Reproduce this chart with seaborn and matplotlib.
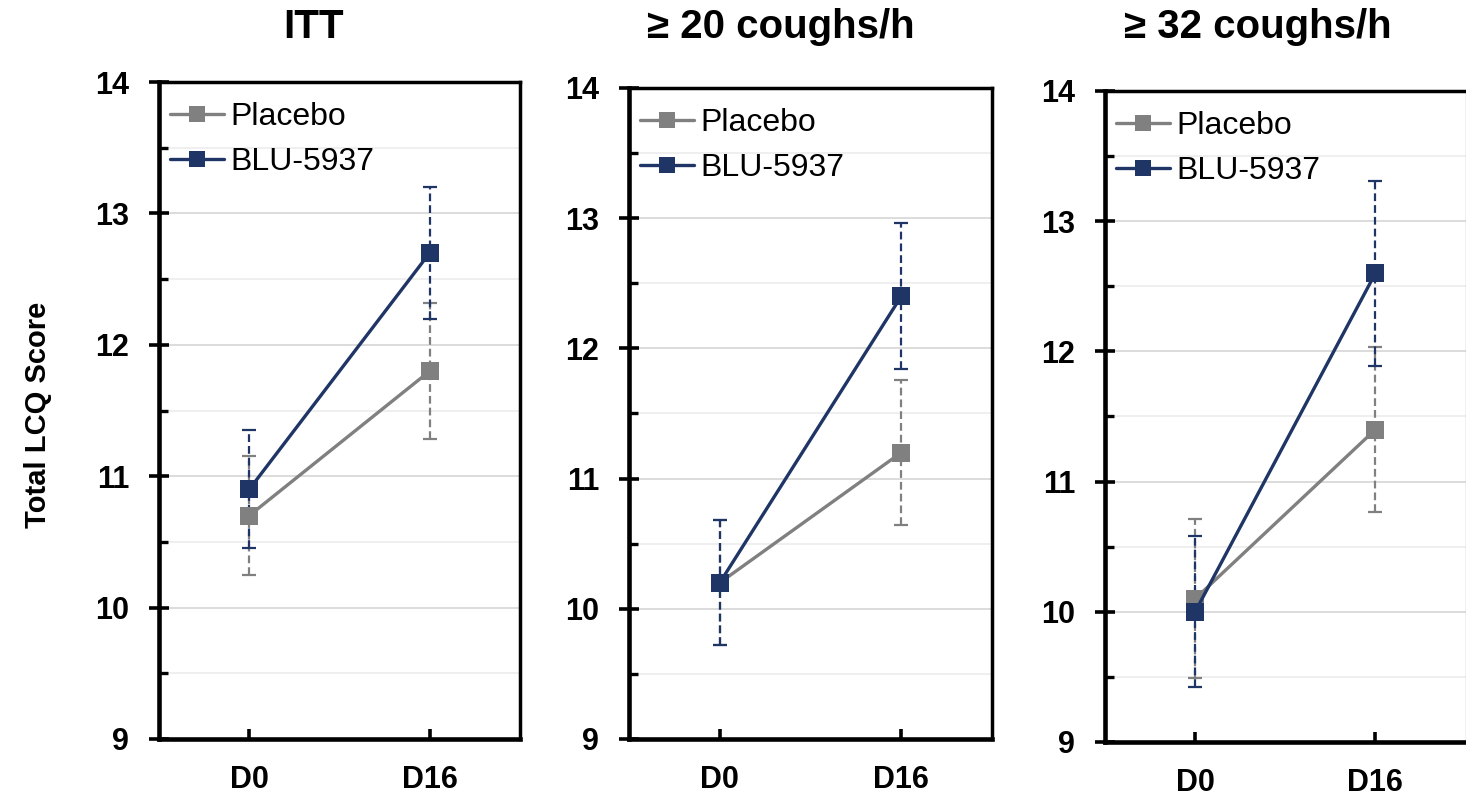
import numpy as np
import pandas as pd
import matplotlib
matplotlib.use('Agg')
import matplotlib.pyplot as plt
from matplotlib.lines import Line2D
from matplotlib.ticker import MultipleLocator
import seaborn as sns

# datos
days = ['D0', 'D16']
groups = ['Placebo', 'BLU-5937']
titles = ['ITT', '≥ 20 coughs/h', '≥ 32 coughs/h']
placebo_mean = [[10.7, 11.8], [10.2, 11.2], [10.1, 11.4]]
placebo_err = [[0.45, 0.52], [0.48, 0.56], [0.61, 0.63]]
blu_mean = [[10.9, 12.7], [10.2, 12.4], [10.0, 12.6]]
blu_err = [[0.45, 0.50], [0.48, 0.56], [0.58, 0.71]]

colors = {'Placebo': '#808080', 'BLU-5937': '#1f3566'}

sns.set_theme(style='white')
plt.rcParams['font.family'] = ['Liberation Sans', 'DejaVu Sans']
plt.rcParams.update({
    'axes.edgecolor': 'black',
    'text.color': 'black',
    'axes.labelcolor': 'black',
    'xtick.color': 'black',
    'ytick.color': 'black',
})

W, H = 1466, 798
fig = plt.figure(figsize=(W / 100, H / 100), dpi=100)

# posiciones de los paneles en píxeles (izq, der, arriba, abajo)
boxes = [(159, 520, 82, 739), (629, 992, 88, 739), (1105, 1465.5, 91, 742)]
title_x = [313, 781, 1258]

for i, (l, r, t, b) in enumerate(boxes):
    ax = fig.add_axes([l / W, 1 - b / H, (r - l) / W, (b - t) / H])
    df = pd.DataFrame({
        'day': days * 2,
        'score': placebo_mean[i] + blu_mean[i],
        'grupo': ['Placebo'] * 2 + ['BLU-5937'] * 2,
    })

    # barras de error punteadas
    for g, m, e in [('Placebo', placebo_mean[i], placebo_err[i]),
                    ('BLU-5937', blu_mean[i], blu_err[i])]:
        eb = ax.errorbar(days, m, yerr=e, fmt='none', ecolor=colors[g],
                         elinewidth=1.6, capsize=5, capthick=1.6, zorder=1.8)
        eb[2][0].set_linestyle((0, (3.5, 1.8)))

    sns.lineplot(data=df, x='day', y='score', hue='grupo', hue_order=groups,
                 palette=colors, marker='s', markersize=12.5, markeredgewidth=0,
                 linewidth=2.4, legend=False, ax=ax, zorder=3)

    ax.set_xlim(-0.5, 1.5)
    ax.set_ylim(9, 14)
    ax.yaxis.set_major_locator(MultipleLocator(1))
    ax.yaxis.set_minor_locator(MultipleLocator(0.5))
    ax.grid(which='major', axis='y', color='#d9d9d9', linewidth=1.3, zorder=0)
    ax.grid(which='minor', axis='y', color='#eeeeee', linewidth=1.3, zorder=0)
    ax.set_axisbelow(True)
    ax.set_xlabel('')
    ax.set_ylabel('')

    ax.tick_params(axis='y', which='major', direction='inout', length=15, width=2.6,
                   pad=14, labelsize=22, left=True, color='black')
    ax.tick_params(axis='y', which='minor', direction='in', length=6.5, width=2.4,
                   left=True, color='black')
    ax.tick_params(axis='x', which='major', direction='in', length=7, width=2.6,
                   pad=19, labelsize=22, bottom=True, color='black')
    for lab in ax.get_xticklabels() + ax.get_yticklabels():
        lab.set_fontweight('bold')

    for side in ['left', 'bottom']:
        ax.spines[side].set_linewidth(3.3)
    for side in ['top', 'right']:
        ax.spines[side].set_linewidth(2.5)
    if i == 2:
        ax.spines['right'].set_color('#bfbfbf')
        ax.spines['right'].set_linewidth(1)

    handles = [Line2D([], [], color=colors[g], marker='s', markersize=11,
                      markeredgewidth=0, linewidth=2.4) for g in groups]
    ax.legend(handles, groups, loc='upper left', frameon=False, fontsize=23,
              bbox_to_anchor=(11 / (r - l), 1 - 20 / (b - t)), borderaxespad=0,
              borderpad=0, handlelength=1.7, handletextpad=0.2, labelspacing=0.46)

    fig.text(title_x[i] / W, 1 - 38 / H, titles[i], ha='center', va='baseline',
             fontsize=29, fontweight='bold')

fig.text(38 / W, 1 - 415 / H, 'Total LCQ Score', rotation=90, ha='center',
         va='center', fontsize=21, fontweight='bold')

fig.savefig('out.png', dpi=100)
